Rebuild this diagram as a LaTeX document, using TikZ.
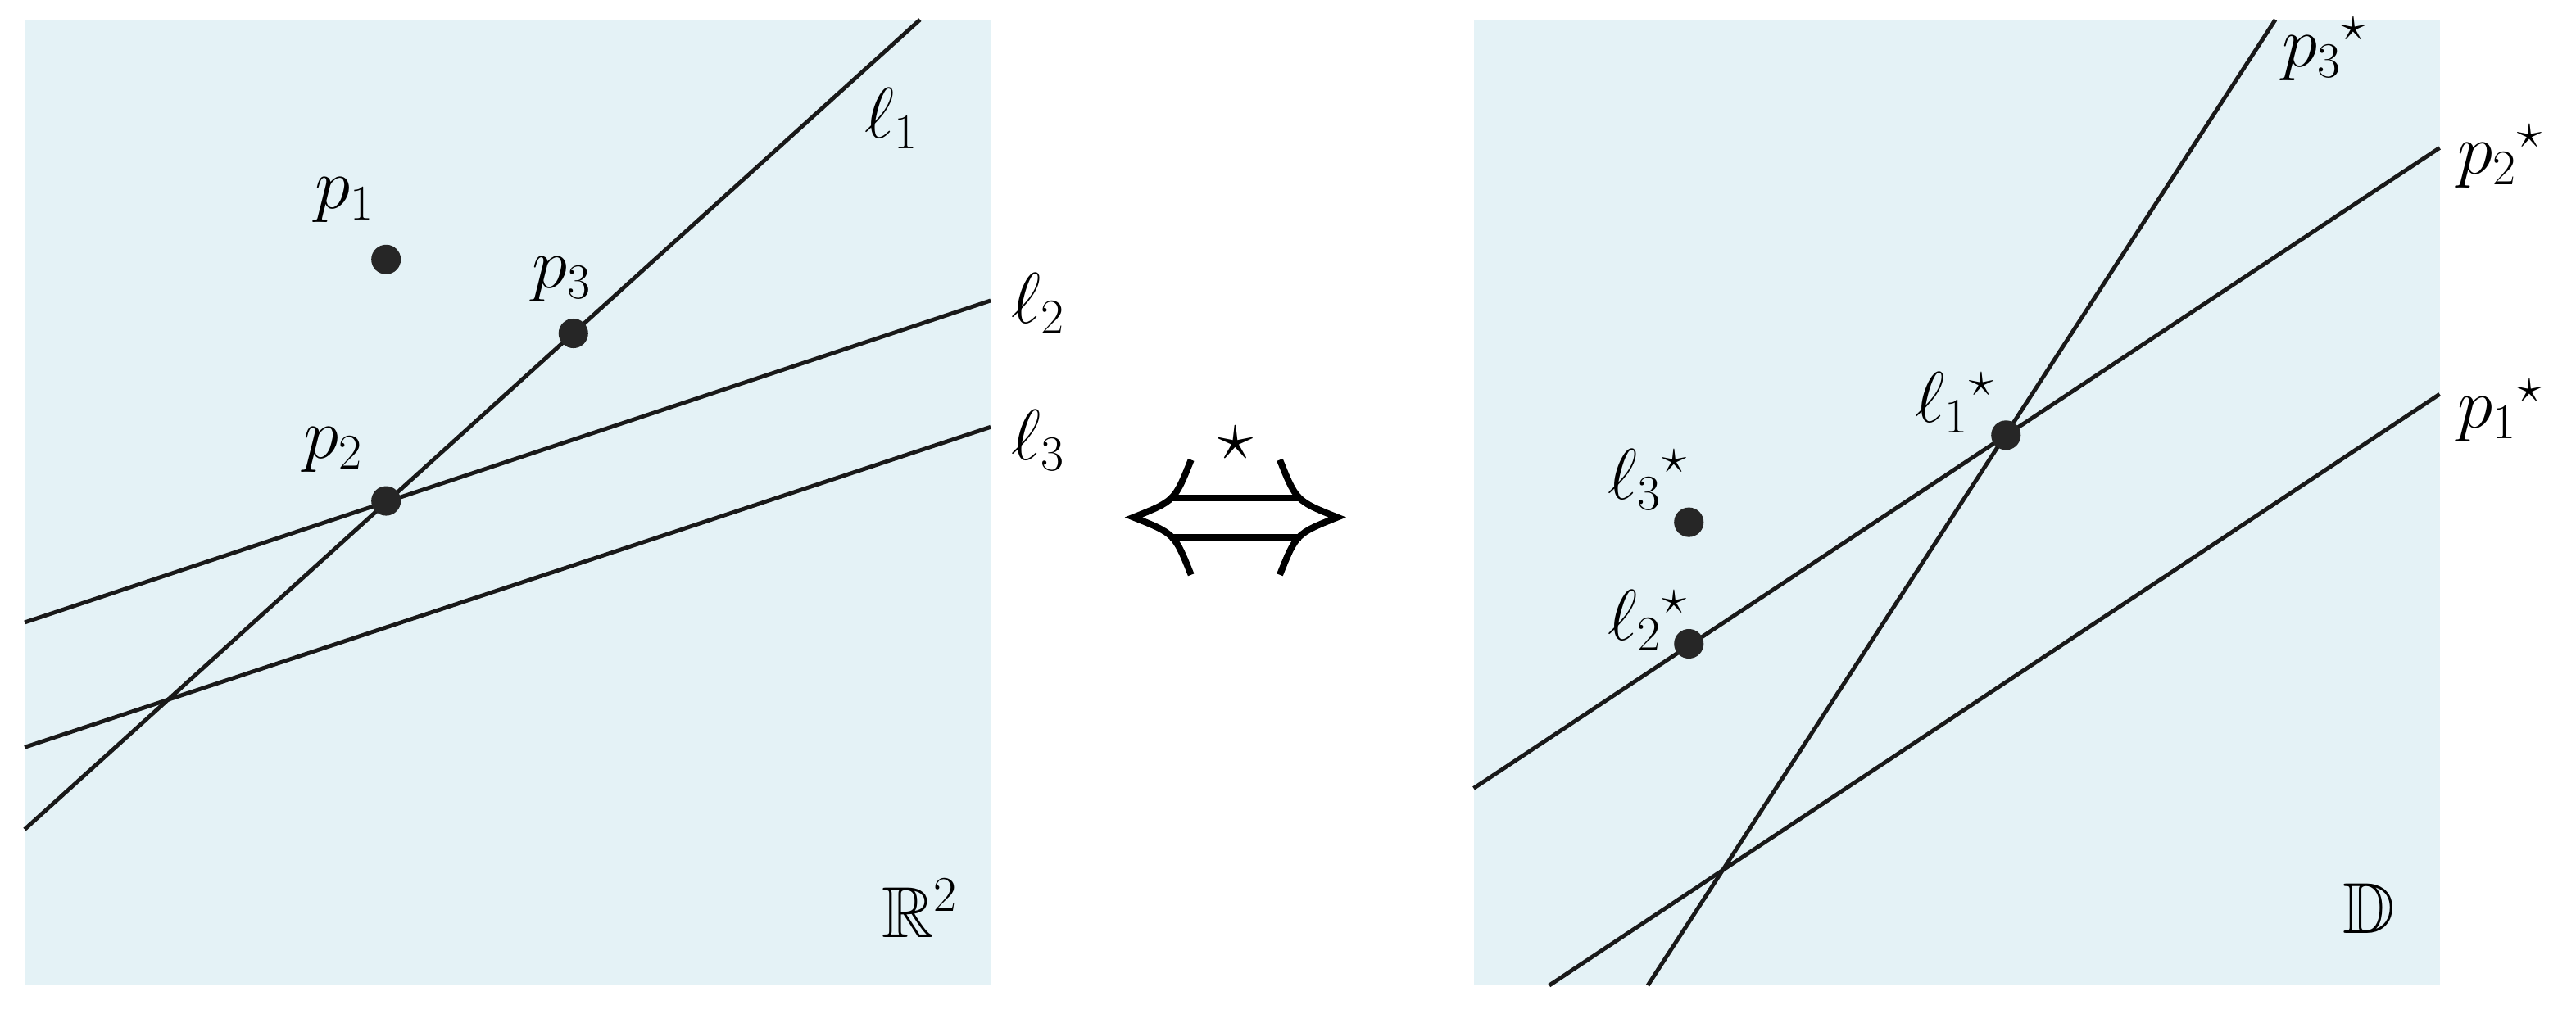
\documentclass[tikz,border=0pt]{standalone}
\usepackage{amsmath,amssymb}
\usetikzlibrary{positioning}
\definecolor{panel}{RGB}{228,242,246}
\begin{document}
\begin{tikzpicture}[x=0.02cm,y=-0.02cm,
    dot/.style={circle,fill=black!85,inner sep=0pt,minimum size=0.36cm},
    lbl/.style={font=\fontsize{25}{30}\selectfont},
    ln/.style={line width=1.4pt,black!90}]
  \useasboundingbox (0,0) rectangle (1568,617);
  \fill[panel] (15,12) rectangle (603,600);
  \fill[panel] (897,12) rectangle (1485,600);
  % primal plane
  \coordinate (a1) at (15,505); \coordinate (b1) at (560,12);
  \coordinate (a2) at (15,379); \coordinate (b2) at (603,183);
  \coordinate (a3) at (15,455); \coordinate (b3) at (603,260);
  \draw[ln] (a1) -- (b1);
  \draw[ln] (a2) -- (b2);
  \draw[ln] (a3) -- (b3);
  \node[dot] (p1) at (235,158) {};
  \node[dot] (p2) at (235,305) {};
  \node[dot] (p3) at (349,203) {};
  \node[lbl] at (210,122) {$p_1$};
  \node[lbl] at (203,274) {$p_2$};
  \node[lbl] at (342,170) {$p_3$};
  \node[lbl] at (543,72) {$\ell_1$};
  \node[lbl] at (632,185) {$\ell_2$};
  \node[lbl] at (632,268) {$\ell_3$};
  \node[lbl] at (560,553) {$\mathbb{R}^2$};
  % duality arrow
  \begin{scope}[line width=0.08cm]
    \draw (712,303) -- (792,303);
    \draw (712,327) -- (792,327);
    \draw (725,280) .. controls (715,305) .. (690,315) .. controls (715,325) .. (725,350);
    \draw (779,280) .. controls (789,305) .. (814,315) .. controls (789,325) .. (779,350);
  \end{scope}
  \node[lbl] (star) at (752,270) {$\star$};
  % dual plane
  \coordinate (c3) at (1003,600); \coordinate (d3) at (1385,12);
  \coordinate (c2) at (897,480); \coordinate (d2) at (1485,90);
  \coordinate (c1) at (943,600); \coordinate (d1) at (1485,240);
  \draw[ln] (c3) -- (d3);
  \draw[ln] (c2) -- (d2);
  \draw[ln] (c1) -- (d1);
  \node[dot] (l1) at (1221,265) {};
  \node[dot] (l2) at (1028,392) {};
  \node[dot] (l3) at (1028,318) {};
  \node[lbl] at (1190,245) {$\ell_1{}^\star$};
  \node[lbl] at (1003,378) {$\ell_2{}^\star$};
  \node[lbl] at (1003,292) {$\ell_3{}^\star$};
  \node[lbl] at (1415,30) {$p_3{}^\star$};
  \node[lbl] at (1522,95) {$p_2{}^\star$};
  \node[lbl] at (1522,250) {$p_1{}^\star$};
  \node[lbl] at (1442,553) {$\mathbb{D}$};
\end{tikzpicture}
\end{document}
